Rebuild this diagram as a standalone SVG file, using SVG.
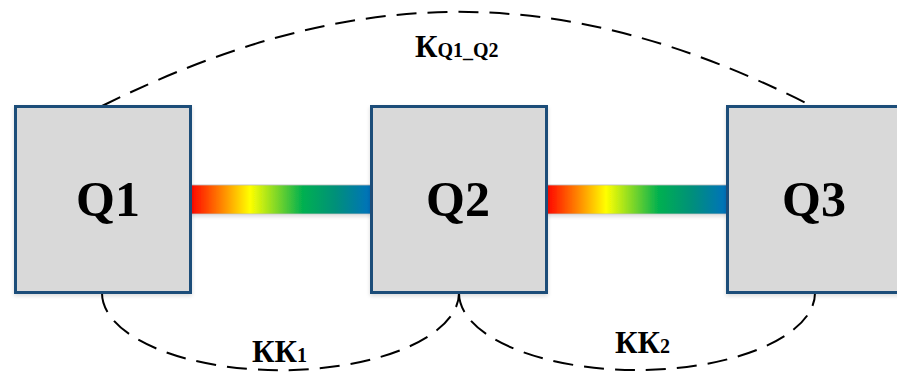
<svg xmlns="http://www.w3.org/2000/svg" width="897" height="374" viewBox="0 0 897 374">
<defs>
<linearGradient id="rainbow" x1="0" y1="0" x2="1" y2="0">
<stop offset="0" stop-color="#FF0000"/>
<stop offset="0.16" stop-color="#FF7A00"/>
<stop offset="0.33" stop-color="#FFFF00"/>
<stop offset="0.62" stop-color="#00B050"/>
<stop offset="0.8" stop-color="#00907A"/>
<stop offset="1" stop-color="#0070C0"/>
</linearGradient>
<filter id="sh" x="-10%" y="-10%" width="120%" height="130%">
<feGaussianBlur in="SourceAlpha" stdDeviation="2"/>
<feOffset dx="0" dy="2"/>
<feComponentTransfer><feFuncA type="linear" slope="0.15"/></feComponentTransfer>
<feMerge><feMergeNode/><feMergeNode in="SourceGraphic"/></feMerge>
</filter>
</defs>
<style>
.box{fill:#D9D9D9;stroke:#1F4E79;stroke-width:3}
.bar{fill:url(#rainbow);stroke:#BFBFBF;stroke-width:0.8}
.dash{fill:none;stroke:#000;stroke-width:2;stroke-dasharray:20 11}
.q{font-family:"Liberation Serif","Times New Roman",serif;font-weight:bold;font-size:50px;fill:#000;text-anchor:middle}
.lbl{font-family:"Liberation Serif","Times New Roman",serif;font-weight:bold;font-size:31px;fill:#000}
.sub{font-size:20px}
</style>
<g id="connectors">
<rect class="bar" x="190" y="185" width="182" height="29" filter="url(#sh)"/>
<rect class="bar" x="546" y="185" width="182" height="29" filter="url(#sh)"/>
<path class="dash" d="M102,106 C350,-17 558,-21 806,103"/>
<path class="dash" d="M102,293 A178,77 0 0 0 459,293"/>
<path class="dash" d="M459,293 A178,77 0 0 0 815,293"/>
</g>
<g id="Q1">
<rect class="box" x="15.5" y="106.5" width="175" height="186" filter="url(#sh)"/>
<text class="q" x="108" y="216">Q1</text>
</g>
<g id="Q2">
<rect class="box" x="371.5" y="106.5" width="175" height="186" filter="url(#sh)"/>
<text class="q" x="458" y="216">Q2</text>
</g>
<g id="Q3">
<rect class="box" x="727.5" y="106.5" width="175" height="186" filter="url(#sh)"/>
<text class="q" x="814" y="216">Q3</text>
</g>
<g id="label-KQ1Q2">
<text class="lbl" x="415" y="57">К<tspan class="sub">Q1_Q2</tspan></text>
</g>
<g id="label-KK1">
<text class="lbl" x="252" y="362">КК<tspan class="sub">1</tspan></text>
</g>
<g id="label-KK2">
<text class="lbl" x="615" y="353">КК<tspan class="sub">2</tspan></text>
</g>
</svg>
